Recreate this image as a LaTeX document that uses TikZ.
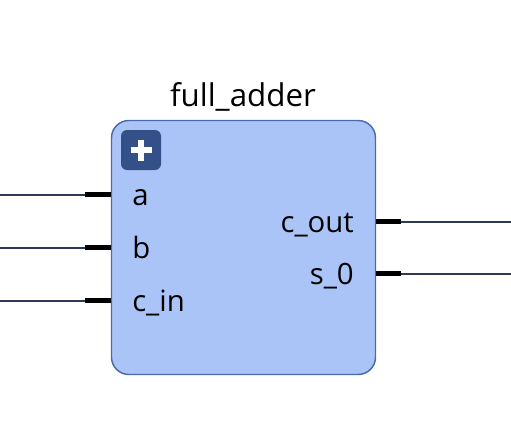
\documentclass[tikz,border=0pt]{standalone}
\usepackage{fontspec}
\setmainfont{Open Sans}
\usepackage{tikz}
\usetikzlibrary{positioning}
\definecolor{blockfill}{HTML}{AAC4F7}
\definecolor{blockedge}{HTML}{4A6BA8}
\definecolor{iconfill}{HTML}{345089}
\definecolor{wirecolor}{HTML}{2B3A55}
\tikzstyle{block} = [rectangle, draw=blockedge, fill=blockfill, line width=1.1pt,
    rounded corners=13pt, minimum width=198pt, minimum height=190.5pt, inner sep=0pt]
\tikzstyle{icon} = [rectangle, fill=iconfill, rounded corners=4.5pt,
    minimum width=30pt, minimum height=30pt, inner sep=0pt]
\tikzstyle{pin} = [draw=black, line width=3.9pt]
\tikzstyle{wire} = [draw=wirecolor, line width=1.5pt]
\tikzstyle{portlabel} = [inner sep=0pt, font=\fontsize{22pt}{24pt}\selectfont]

\begin{document}
\begin{tikzpicture}[x=0.75pt,y=-0.75pt]
    \useasboundingbox (0,0) rectangle (511,446);
    % Place nodes
    \node [block] (adder) at (243.5,247.5) {};
    \node [icon] (plus) at (141,150) {};
    \node [portlabel, anchor=base, font=\fontsize{23.5pt}{26pt}\selectfont] (title) at (243,106) {full\_adder};
    \node [portlabel, anchor=base west] (a) at (132,205) {a};
    \node [portlabel, anchor=base west] (b) at (132,258) {b};
    \node [portlabel, anchor=base west] (cin) at (132,311) {c\_in};
    \node [portlabel, anchor=base east] (cout) at (354,232) {c\_out};
    \node [portlabel, anchor=base east] (s) at (354,284) {s\_0};
    % Pin ends
    \coordinate (a0) at (0,194.5);
    \coordinate (b0) at (0,247.5);
    \coordinate (cin0) at (0,300.5);
    \coordinate (cout0) at (511,221.5);
    \coordinate (s0) at (511,273.5);
    \coordinate (a1) at (85,194.5);
    \coordinate (b1) at (85,247.5);
    \coordinate (cin1) at (85,300.5);
    \coordinate (cout1) at (401,221.5);
    \coordinate (s1) at (401,273.5);
    % Draw edges
    \foreach \p in {a,b,cin,cout,s} {
        \path [wire] (\p0) -- (\p1);
    }
    \path [pin] (a1) -- (a1 -| adder.west);
    \path [pin] (b1) -- (b1 -| adder.west);
    \path [pin] (cin1) -- (cin1 -| adder.west);
    \path [pin] (cout1) -- (cout1 -| adder.east);
    \path [pin] (s1) -- (s1 -| adder.east);
    % Plus sign
    \draw [white, line width=4pt] (plus.center) ++(-10.5,0) -- ++(21,0);
    \draw [white, line width=4pt] (plus.center) ++(0,-10.5) -- ++(0,21);
\end{tikzpicture}
\end{document}
